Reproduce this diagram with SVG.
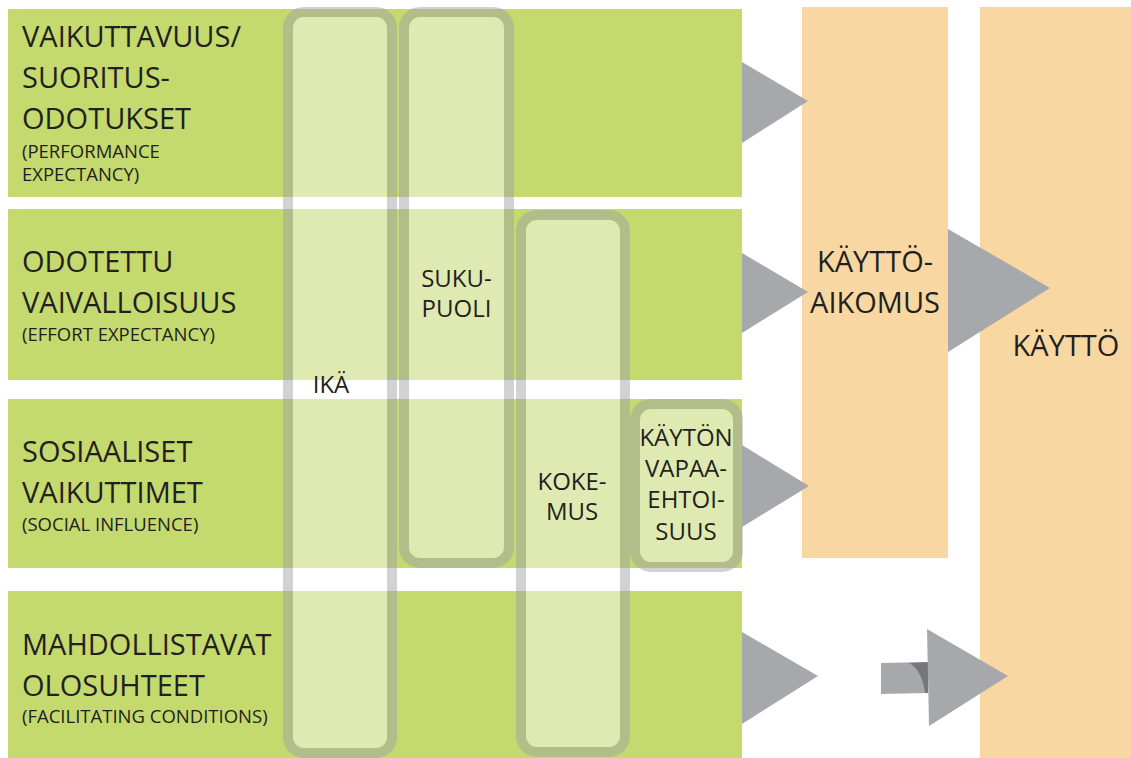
<svg xmlns="http://www.w3.org/2000/svg" width="1131" height="758" viewBox="0 0 1131 758">
  <style>
    .row { fill: #c4d96e; }
    .target { fill: #f8d7a2; }
    .col { fill: #ffffff; stroke: #a0a0a8; stroke-width: 10; opacity: 0.47; }
    .arrow { fill: #a7a8ac; }
    .shade { fill: #76777b; }
    text { font-family: "Open Sans", "Liberation Sans", sans-serif; fill: #231f20; }
    .title { font-size: 29px; }
    .sub { font-size: 18.5px; }
    .lbl { font-size: 24px; text-anchor: middle; }
    .big { font-size: 29px; text-anchor: middle; }
  </style>
  <rect width="1131" height="758" fill="#ffffff"/>

  <!-- outcome columns -->
  <g id="kayttoaikomus">
    <rect class="target" x="802" y="7" width="146" height="551"/>
    <text class="big" x="875" y="272">KÄYTTÖ-</text>
    <text class="big" x="875" y="313">AIKOMUS</text>
  </g>
  <g id="kaytto">
    <rect class="target" x="980" y="7" width="151" height="751"/>
    <text class="big" x="1066" y="356">KÄYTTÖ</text>
  </g>

  <!-- determinant rows -->
  <g id="performance-expectancy">
    <rect class="row" x="8" y="9" width="734" height="188"/>
    <text class="title" x="22" y="47">VAIKUTTAVUUS/</text>
    <text class="title" x="22" y="88">SUORITUS-</text>
    <text class="title" x="22" y="129">ODOTUKSET</text>
    <text class="sub" x="22" y="158">(PERFORMANCE</text>
    <text class="sub" x="22" y="181">EXPECTANCY)</text>
  </g>
  <g id="effort-expectancy">
    <rect class="row" x="8" y="209" width="734" height="171"/>
    <text class="title" x="22" y="272">ODOTETTU</text>
    <text class="title" x="22" y="313">VAIVALLOISUUS</text>
    <text class="sub" x="22" y="341">(EFFORT EXPECTANCY)</text>
  </g>
  <g id="social-influence">
    <rect class="row" x="8" y="399" width="734" height="169"/>
    <text class="title" x="22" y="462">SOSIAALISET</text>
    <text class="title" x="22" y="503">VAIKUTTIMET</text>
    <text class="sub" x="22" y="531">(SOCIAL INFLUENCE)</text>
  </g>
  <g id="facilitating-conditions">
    <rect class="row" x="8" y="591" width="734" height="167"/>
    <text class="title" x="22" y="655">MAHDOLLISTAVAT</text>
    <text class="title" x="22" y="696">OLOSUHTEET</text>
    <text class="sub" x="22" y="723">(FACILITATING CONDITIONS)</text>
  </g>

  <!-- moderator bands -->
  <g id="ika">
    <rect class="col" x="288" y="12" width="104" height="741" rx="16"/>
    <text class="lbl" x="331" y="393">IKÄ</text>
  </g>
  <g id="sukupuoli">
    <rect class="col" x="404" y="12" width="105" height="551" rx="16"/>
    <text class="lbl" x="456.5" y="287">SUKU-</text>
    <text class="lbl" x="456.5" y="317">PUOLI</text>
  </g>
  <g id="kokemus">
    <rect class="col" x="521" y="215" width="104" height="537" rx="16"/>
    <text class="lbl" x="572" y="490">KOKE-</text>
    <text class="lbl" x="572" y="520">MUS</text>
  </g>
  <g id="vapaaehtoisuus">
    <rect class="col" x="635" y="404" width="103" height="163" rx="16"/>
    <text class="lbl" x="686" y="446">KÄYTÖN</text>
    <text class="lbl" x="686" y="477">VAPAA-</text>
    <text class="lbl" x="686" y="508">EHTOI-</text>
    <text class="lbl" x="686" y="540">SUUS</text>
  </g>

  <!-- connectors -->
  <g id="connectors">
    <polygon class="arrow" points="742,62 808,101 742,143"/>
    <polygon class="arrow" points="742,253 808,292 742,333"/>
    <polygon class="arrow" points="742,445 809,486 742,527"/>
    <polygon class="arrow" points="742,632 818,676 742,724"/>
    <polygon class="arrow" points="948,229 1050,288 948,352"/>
    <polygon class="arrow" points="881,663 928,662 928,693 881,694"/>
    <path class="shade" d="M909,663 L928,662 L928,693 L925,693 Q922,670 909,663 Z"/>
    <polygon class="arrow" points="927,629 1008,676 929,726"/>
  </g>
</svg>
